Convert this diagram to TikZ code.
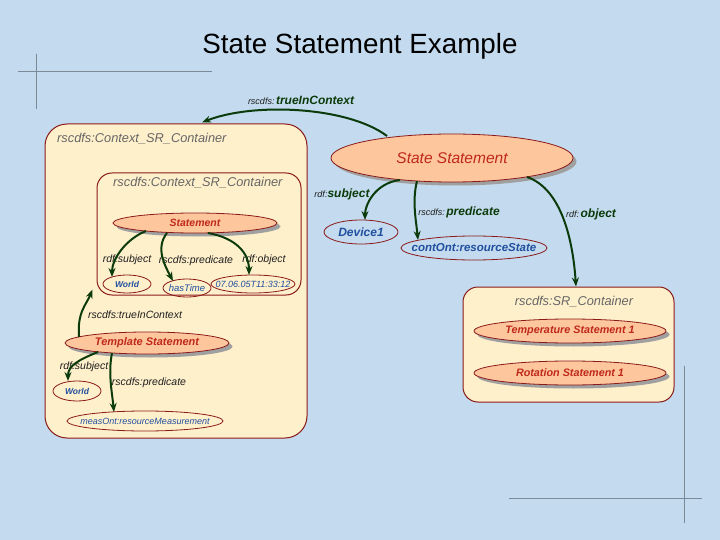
\documentclass[tikz,border=0pt]{standalone}
\usepackage{fontspec}
\setmainfont{Liberation Sans}
\usetikzlibrary{arrows.meta,shapes.geometric,shadows}
\definecolor{bg}{HTML}{C4DAEE}
\definecolor{cream}{HTML}{FFF0CC}
\definecolor{darkred}{HTML}{8B1A1A}
\definecolor{salmon}{HTML}{FDC69C}
\definecolor{redtxt}{HTML}{C0281C}
\definecolor{bluetxt}{HTML}{1F4F9F}
\definecolor{arrowgreen}{HTML}{0B3B0B}
\definecolor{greytxt}{HTML}{666666}
\definecolor{labtxt}{HTML}{1E1E1E}
\definecolor{cropgrey}{HTML}{7A8A99}
\definecolor{shadowgrey}{HTML}{A0A0A0}
\newcommand{\fsz}[1]{\fontsize{#1}{#1}\selectfont}
\newcommand{\ctxt}[1]{\makebox[0pt]{#1}}
\newcommand{\prefx}[1]{{\fsz{9}\mdseries\color{labtxt}#1}}
\begin{document}
\begin{tikzpicture}[x=1pt,y=-1pt,
  container/.style={draw=darkred, fill=cream, line width=1pt, inner sep=0pt},
  stmtell/.style={ellipse, draw=darkred, fill=salmon, line width=0.8pt, inner sep=0pt,
    drop shadow={shadow xshift=3.5pt, shadow yshift=-3.5pt, fill=shadowgrey, opacity=1},
    text=redtxt, font=\bfseries\itshape},
  valell/.style={ellipse, draw=darkred, line width=0.8pt, inner sep=0pt, text=bluetxt, font=\itshape},
  conlab/.style={inner sep=0pt, text=greytxt, font=\itshape\fsz{12.8}},
  lab/.style={inner sep=0pt, text=labtxt, font=\itshape\fsz{10.5}},
  biglab/.style={inner sep=0pt, text=arrowgreen, font=\itshape\bfseries\fsz{12}},
  arc/.style={draw=arrowgreen, line width=2pt, -{Stealth[length=9pt,width=7pt]}},
  crop/.style={draw=cropgrey, line width=1pt}]
\fill[bg] (0,0) rectangle (720,540);
\useasboundingbox (0,0) rectangle (720,540);

% crop marks
\draw[crop] (18,72) -- (212,72);
\draw[crop] (36,54) -- (36,109);
\draw[crop] (509,498) -- (702,498);
\draw[crop] (684,366) -- (684,523);

% title
\node[inner sep=0pt, font=\fsz{27.8}] (title) at (360,46) {State Statement Example};

% containers
\node[container, rounded corners=22pt, minimum width=262pt, minimum height=314pt] (outer) at (176,281) {};
\node[container, rounded corners=15pt, minimum width=204pt, minimum height=122pt] (inner) at (199,234) {};
\node[container, rounded corners=15pt, minimum width=211pt, minimum height=115pt] (sr) at (568.5,344.5) {};
\node[conlab, anchor=west] (outerlab) at (57,139) {rscdfs:Context\_SR\_Container};
\node[conlab, anchor=west] (innerlab) at (113,183) {rscdfs:Context\_SR\_Container};
\node[conlab] (srlab) at (574,302) {rscdfs:SR\_Container};

% statement ellipses
\node[stmtell, minimum width=242pt, minimum height=48pt, font=\itshape\fsz{15.5}] (ss) at (452,158) {\ctxt{State Statement}};
\node[stmtell, minimum width=164pt, minimum height=20pt, font=\bfseries\itshape\fsz{10.5}] (stmt) at (195,223) {\ctxt{Statement}};
\node[stmtell, minimum width=164pt, minimum height=22pt, font=\bfseries\itshape\fsz{11}] (tmpl) at (147,343) {\ctxt{Template Statement}};
\node[stmtell, minimum width=192pt, minimum height=24pt, font=\bfseries\itshape\fsz{10.8}] (temp) at (570,331) {\ctxt{Temperature Statement 1}};
\node[stmtell, minimum width=192pt, minimum height=24pt, font=\bfseries\itshape\fsz{10.8}] (rot) at (570,373) {\ctxt{Rotation Statement 1}};

% value ellipses
\node[valell, minimum width=48pt, minimum height=18pt, font=\bfseries\itshape\fsz{8.5}] (world1) at (127,284) {\ctxt{World}};
\node[valell, minimum width=48pt, minimum height=18pt, font=\itshape\fsz{9.5}] (hastime) at (187,288) {\ctxt{hasTime}};
\node[valell, minimum width=84pt, minimum height=18pt, font=\itshape\fsz{9}] (date) at (253,284) {\ctxt{07.06.05T11:33:12}};
\node[valell, minimum width=48pt, minimum height=20pt, font=\bfseries\itshape\fsz{8.5}] (world2) at (77,391) {\ctxt{World}};
\node[valell, minimum width=156pt, minimum height=20pt, font=\itshape\fsz{9}] (meas) at (145,421) {\ctxt{measOnt:resourceMeasurement}};
\node[valell, minimum width=74pt, minimum height=24pt, font=\bfseries\itshape\fsz{12}] (dev) at (361,232) {\ctxt{Device1}};
\node[valell, minimum width=146pt, minimum height=24pt, font=\bfseries\itshape\fsz{11.5}] (cont) at (474,248) {\ctxt{contOnt:resourceState}};

% labels
\node[biglab] (ltic) at (301,100) {\prefx{rscdfs:\,}trueInContext};
\node[biglab] (lssubj) at (342,194) {\prefx{rdf:}subject};
\node[biglab] (lspred) at (459,212) {\prefx{rscdfs:\,}predicate};
\node[biglab] (lsobj) at (591,214) {\prefx{rdf:\,}object};
\node[lab] (lisubj) at (127,260) {rdf:subject};
\node[lab] (lipred) at (196,261) {rscdfs:predicate};
\node[lab] (liobj) at (264,260) {rdf:object};
\node[lab] (lttic) at (135,315) {rscdfs:trueInContext};
\node[lab] (ltsubj) at (84,367) {rdf:subject};
\node[lab] (ltpred) at (149,383) {rscdfs:predicate};

% connectors
\draw[arc] ([shift={(-65,-22)}]ss.center) .. controls +(-40,-30) and +(50,-20) .. ([shift={(26,-1)}]outer.north);
\draw[arc] ([shift={(-52,22)}]ss.center) .. controls +(-25,3) and +(0,-15) .. ([shift={(4,-12)}]dev.center);
\draw[arc] ([shift={(-35,23)}]ss.center) .. controls +(-5,20) and +(-2,-20) .. ([shift={(-56,-8)}]cont.center);
\draw[arc] ([shift={(75,19)}]ss.center) .. controls +(35,12) and +(-3,-45) .. ([shift={(7.5,0)}]sr.north);
\draw[arc] ([shift={(-49,8)}]stmt.center) .. controls +(-20,8) and +(0,-18) .. ([shift={(-15,-7)}]world1.center);
\draw[arc] ([shift={(-28,10)}]stmt.center) .. controls +(-12,15) and +(-8,-15) .. ([shift={(-14,-7)}]hastime.center);
\draw[arc] ([shift={(13,10)}]stmt.center) .. controls +(28,5) and +(0,-22) .. ([shift={(-4,-9)}]date.center);
\draw[arc] ([shift={(-68,-6)}]tmpl.center) .. controls +(-2,-25) and +(-6,15) .. ([shift={(-4,-6)}]inner.south west);
\draw[arc] ([shift={(-49,9)}]tmpl.center) .. controls +(-20,8) and +(0,-15) .. ([shift={(-9,-10)}]world2.center);
\draw[arc] ([shift={(-35,10)}]tmpl.center) .. controls +(-4,20) and +(-2,-20) .. ([shift={(-31,-9)}]meas.center);
\end{tikzpicture}
\end{document}
